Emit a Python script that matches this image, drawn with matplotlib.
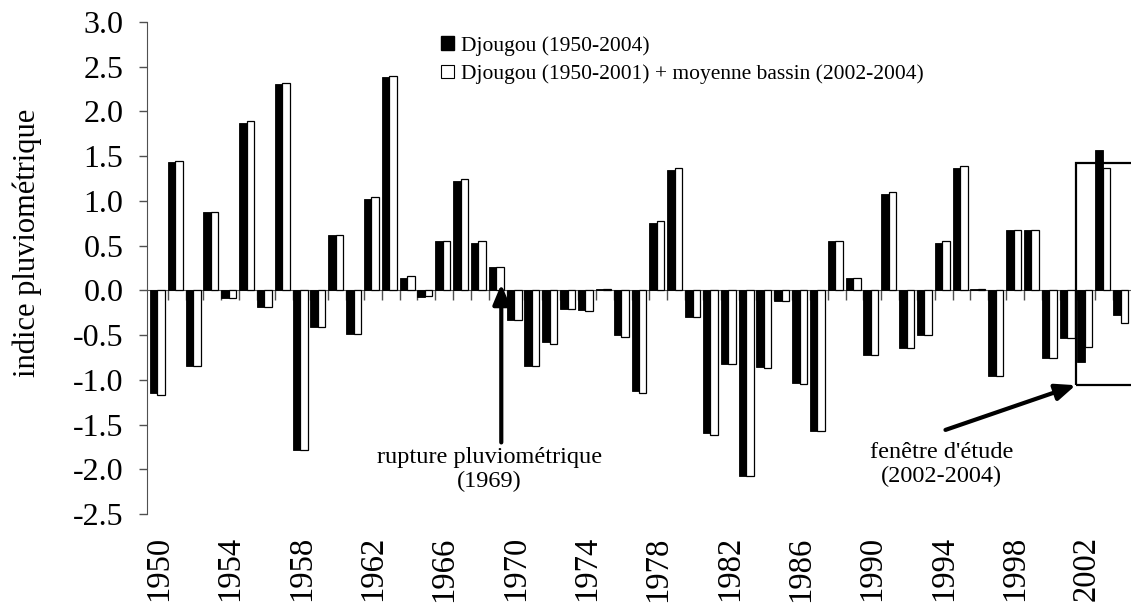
#!/usr/bin/env python3
"""
Indice pluviométrique de Djougou, 1950-2004, avec et sans la moyenne bassin.
"""
import matplotlib
matplotlib.use('Agg')
import matplotlib.pyplot as plt
from matplotlib.patches import Patch, Rectangle
from matplotlib.ticker import FixedLocator, FormatStrFormatter

# Data
years = list(range(1950, 2005))
djougou = [
    -1.15, 1.43, -0.85, 0.88, -0.09, 1.87, -0.19, 2.31, -1.78, -0.41,
    0.62, -0.49, 1.02, 2.39, 0.14, -0.07, 0.55, 1.22, 0.53, 0.26,
    -0.33, -0.84, -0.58, -0.21, -0.22, 0.015, -0.50, -1.13, 0.75, 1.35,
    -0.30, -1.60, -0.82, -2.07, -0.86, -0.12, -1.04, -1.57, 0.55, 0.14,
    -0.72, 1.08, -0.64, -0.50, 0.53, 1.37, 0.015, -0.96, 0.67, 0.67,
    -0.76, -0.53, -0.80, 1.57, -0.28,
]
djougou_bassin = [
    -1.17, 1.45, -0.85, 0.88, -0.09, 1.89, -0.19, 2.32, -1.78, -0.41,
    0.62, -0.49, 1.04, 2.40, 0.16, -0.06, 0.55, 1.24, 0.55, 0.26,
    -0.33, -0.85, -0.60, -0.21, -0.23, 0.015, -0.52, -1.15, 0.77, 1.37,
    -0.30, -1.62, -0.82, -2.08, -0.87, -0.12, -1.05, -1.57, 0.55, 0.14,
    -0.72, 1.10, -0.64, -0.50, 0.55, 1.39, 0.015, -0.96, 0.67, 0.67,
    -0.76, -0.53, -0.63, 1.37, -0.36,
]
labels = ['Djougou (1950-2004)',
          'Djougou (1950-2001) + moyenne bassin (2002-2004)']
year_labels = [y for y in years if (y - 1950) % 4 == 0]
yticks = [-2.5, -2.0, -1.5, -1.0, -0.5, 0.0, 0.5, 1.0, 1.5, 2.0, 2.5, 3.0]

plt.rcParams['font.family'] = ['Liberation Serif', 'DejaVu Serif']
plt.rcParams['axes.unicode_minus'] = False

W, H = 1131, 607
fig = plt.figure(figsize=(W / 100, H / 100), dpi=100)
ax = fig.add_axes([147 / W, (H - 514) / H, (W - 147) / W, 492 / H])

axis_col = '#505050'
bw = 0.42
idx = list(range(len(years)))
ax.bar([i for i in idx], djougou, width=bw, align='edge',
       color='black', edgecolor='black', linewidth=0.6, zorder=3)
ax.bar([i + bw for i in idx], djougou_bassin, width=bw, align='edge',
       color='white', edgecolor='black', linewidth=0.9, zorder=3)

ax.set_xlim(-0.16, len(years))
ax.set_ylim(-2.5, 3.0)

# spines: category axis crosses at 0
for s in ('top', 'right'):
    ax.spines[s].set_visible(False)
ax.spines['bottom'].set_position(('data', 0))
ax.spines['bottom'].set_color(axis_col)
ax.spines['bottom'].set_zorder(2)
ax.spines['left'].set_color(axis_col)

ax.yaxis.set_major_locator(FixedLocator(yticks))
ax.yaxis.set_major_formatter(FormatStrFormatter('%.1f'))
ax.tick_params(axis='y', direction='out', length=6, width=1, color=axis_col,
               labelsize=23, pad=11)

ax.xaxis.set_major_locator(FixedLocator(range(1, len(years))))
ax.tick_params(axis='x', direction='out', length=7.5, width=1, color=axis_col,
               labelbottom=False)

# year labels along the bottom of the plot
sec = ax.secondary_xaxis('bottom')
sec.set_xticks([years.index(y) + 0.5 for y in year_labels],
               [str(y) for y in year_labels])
sec.spines['bottom'].set_visible(False)
sec.tick_params(length=0, labelsize=23.5, labelrotation=90, pad=16)

fig.text(27 / W, 1 - 243 / H, 'indice pluviométrique', rotation=90,
         ha='center', va='center', fontsize=22)

ax.legend(handles=[Patch(facecolor='black', edgecolor='black'),
                   Patch(facecolor='white', edgecolor='black', linewidth=0.8)],
          labels=labels, loc='upper left', bbox_to_anchor=(441 / W, 1 - 36 / H),
          bbox_transform=fig.transFigure, frameon=False, fontsize=15.5,
          handlelength=0.6, handleheight=0.6, handletextpad=0.35,
          labelspacing=0.4, borderpad=0, borderaxespad=0)

# rupture pluviométrique
arrow = dict(arrowstyle='-|>,head_length=1.2,head_width=0.5', lw=3,
             color='black', mutation_scale=10, shrinkA=0, shrinkB=0)
ax.annotate('', xy=(19.7, 0.07), xytext=(19.7, -1.70), arrowprops=arrow,
            zorder=5)
ax.text(19.05, -2.0, 'rupture pluviométrique\n(1969)', ha='center',
        va='center', fontsize=17.5, linespacing=1.2)

# fenêtre d'étude
ax.add_patch(Rectangle((51.9, -1.06), 5, 2.48, fill=False, edgecolor='black',
                       linewidth=1.6, clip_on=False, zorder=4))
ax.annotate('', xy=(51.9, -1.06), xytext=(44.6, -1.56), arrowprops=arrow,
            zorder=5, annotation_clip=False)
ax.text(44.4, -1.95, "fenêtre d'étude\n(2002-2004)", ha='center',
        va='center', fontsize=17.5, linespacing=1.2)

fig.savefig('out.png', dpi=100)
